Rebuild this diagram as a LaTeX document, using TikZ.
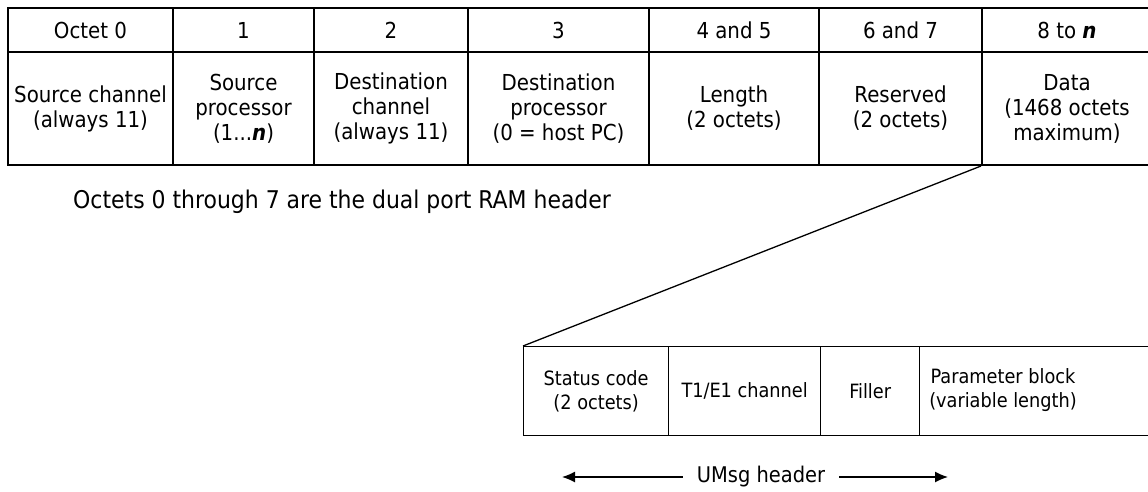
\documentclass[tikz,border=0pt]{standalone}
\usepackage{fontspec}
\setmainfont{DejaVu Sans Condensed}
\usetikzlibrary{arrows.meta}

\tikzset{
    cell/.style={draw, line width=2pt, anchor=north west, inner sep=0pt, align=center,
        font=\fontsize{22}{25}\selectfont},
    field/.style={draw, line width=1.3pt, anchor=north west, inner sep=0pt, align=center,
        font=\fontsize{19.7}{24}\selectfont},
}
\newcommand{\nvar}{\textbf{\textit{n}}}

\begin{document}
\begin{tikzpicture}[x=1pt, y=-1pt]
    \useasboundingbox (0,0) rectangle (1148,491);

    \node (h0) [cell, minimum width=165pt, minimum height=44pt] at (7,7) {Octet 0};
    \node (h1) [cell, minimum width=141pt, minimum height=44pt] at (172,7) {1};
    \node (h2) [cell, minimum width=154pt, minimum height=44pt] at (313,7) {2};
    \node (h3) [cell, minimum width=181pt, minimum height=44pt] at (467,7) {3};
    \node (h4) [cell, minimum width=170pt, minimum height=44pt] at (648,7) {4 and 5};
    \node (h5) [cell, minimum width=163pt, minimum height=44pt] at (818,7) {6 and 7};
    \node (h6) [cell, minimum width=170pt, minimum height=44pt] at (981,7) {8 to \nvar};

    \node (d0) [cell, minimum width=165pt, minimum height=113pt] at (7,51) {Source channel\\(always 11)};
    \node (d1) [cell, minimum width=141pt, minimum height=113pt] at (172,51) {Source\\processor\\(1...\nvar)};
    \node (d2) [cell, minimum width=154pt, minimum height=113pt] at (313,51) {Destination\\channel\\(always 11)};
    \node (d3) [cell, minimum width=181pt, minimum height=113pt] at (467,51) {Destination\\processor\\(0 = host PC)};
    \node (d4) [cell, minimum width=170pt, minimum height=113pt] at (648,51) {Length\\(2 octets)};
    \node (d5) [cell, minimum width=163pt, minimum height=113pt] at (818,51) {Reserved\\(2 octets)};
    \node (d6) [cell, minimum width=170pt, minimum height=113pt] at (981,51) {Data\\(1468 octets\\maximum)};

    \node (note) [anchor=west, inner sep=0pt, font=\fontsize{24.4}{28}\selectfont] at (73,202) {Octets 0 through 7 are the dual port RAM header};

    \node (s0) [field, minimum width=145pt, minimum height=89pt] at (523,346) {Status code\\(2 octets)};
    \node (s1) [field, minimum width=152pt, minimum height=89pt] at (668,346) {T1/E1 channel};
    \node (s2) [field, minimum width=99pt, minimum height=89pt] at (820,346) {Filler};
    \node (s3) [field, minimum width=240pt, minimum height=89pt] at (919,346) {};
    \node (s3t) [align=center, inner sep=0pt, font=\fontsize{19.7}{24}\selectfont] at (1003,390) {Parameter block\\(variable length)};

    \draw [line width=1.3pt] (d6.south west) -- (s0.north west);

    \node (umsg) [inner xsep=14pt, font=\fontsize{21.6}{25}\selectfont] at (761,477) {UMsg header};
    \coordinate (umsgL) at (562,477);
    \coordinate (umsgR) at (948,477);
    \draw [-{Latex[length=13pt,width=11pt]}, line width=1.3pt] (umsg) -- (umsgL);
    \draw [-{Latex[length=13pt,width=11pt]}, line width=1.3pt] (umsg) -- (umsgR);
\end{tikzpicture}
\end{document}
